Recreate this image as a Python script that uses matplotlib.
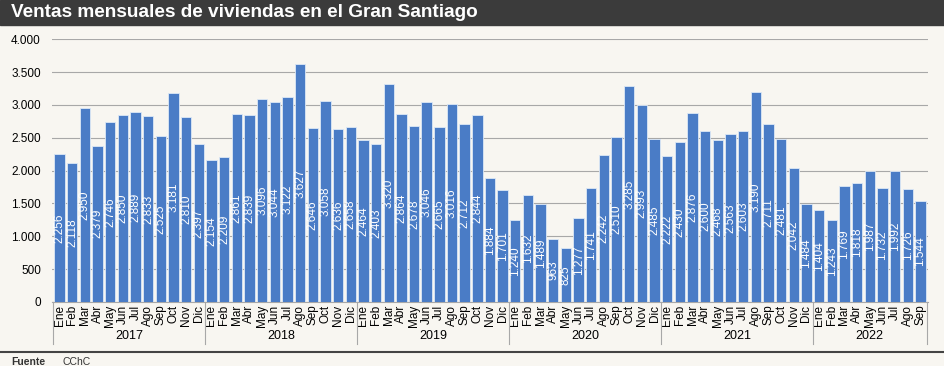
import numpy as np
import matplotlib
matplotlib.use("Agg")
import matplotlib.pyplot as plt
from matplotlib import font_manager

# Monthly home sales, Gran Santiago (CChC)
years = ["2017", "2018", "2019", "2020", "2021", "2022"]
months = ["Ene", "Feb", "Mar", "Abr", "May", "Jun", "Jul", "Ago", "Sep", "Oct", "Nov", "Dic"]
sales_2017 = [2256, 2118, 2950, 2379, 2746, 2850, 2889, 2833, 2525, 3181, 2810, 2397]
sales_2018 = [2154, 2209, 2861, 2839, 3096, 3044, 3122, 3627, 2646, 3058, 2636, 2658]
sales_2019 = [2464, 2403, 3320, 2864, 2678, 3046, 2665, 3016, 2712, 2844, 1884, 1701]
sales_2020 = [1240, 1632, 1489, 963, 825, 1277, 1741, 2242, 2510, 3285, 2993, 2485]
sales_2021 = [2222, 2430, 2876, 2600, 2468, 2563, 2603, 3190, 2711, 2481, 2042, 1484]
sales_2022 = [1404, 1243, 1769, 1818, 1987, 1732, 1992, 1726, 1544]
yticks = [0, 500, 1000, 1500, 2000, 2500, 3000, 3500, 4000]

all_years = [sales_2017, sales_2018, sales_2019, sales_2020, sales_2021, sales_2022]
values = [v for yr in all_years for v in yr]
labels = [months[i] for yr in all_years for i in range(len(yr))]
x = np.arange(len(values))

plt.rcParams["font.family"] = ["Liberation Sans", "DejaVu Sans"]
names = {f.name for f in font_manager.fontManager.ttflist}
narrow = "Liberation Sans Narrow" if "Liberation Sans Narrow" in names else "Liberation Sans"

bg = "#f8f6f1"
bar_color = "#4a7cc6"

fig = plt.figure(figsize=(9.45, 3.66), dpi=100, facecolor=bg)
ax = fig.add_axes([0.055, 0.175, 0.927, 0.718], facecolor=bg)

ax.bar(x, values, width=0.82, color=bar_color, edgecolor="#dce8f6", linewidth=0.6, zorder=3)
for xi, v in zip(x, values):
    ax.text(xi, v / 2, f"{v:,}".replace(",", "."), rotation=90, ha="center", va="center",
            color="white", fontsize=8.5, family=narrow, zorder=4)

ax.set_xlim(-0.6, len(values) - 0.4)
ax.set_ylim(0, 4000)
ax.set_yticks(yticks)
ax.set_yticklabels([f"{t:,}".replace(",", ".") for t in yticks], fontsize=8.5)
ax.yaxis.grid(True, color="#a8a8a8", linewidth=0.8, zorder=0)
ax.tick_params(axis="y", length=0, pad=8)
ax.set_xticks(x)
ax.set_xticklabels(labels, rotation=90, fontsize=8.5)
ax.tick_params(axis="x", length=0, pad=2)
for s in ["top", "right", "left"]:
    ax.spines[s].set_visible(False)
ax.spines["bottom"].set_color("#a8a8a8")

# year groups: separators and labels
start = 0
for yr, data in zip(years, all_years):
    n = len(data)
    ax.plot([start - 0.5, start - 0.5], [0, -0.16], transform=ax.get_xaxis_transform(),
            color="#a8a8a8", linewidth=0.8, clip_on=False)
    ax.text(start + (n - 1) / 2, -0.13, yr, transform=ax.get_xaxis_transform(),
            ha="center", va="center", fontsize=9)
    start += n
ax.plot([start - 0.5, start - 0.5], [0, -0.16], transform=ax.get_xaxis_transform(),
        color="#a8a8a8", linewidth=0.8, clip_on=False)

# title bar
fig.patches.append(plt.Rectangle((0, 0.932), 1, 0.068, transform=fig.transFigure,
                                 color="#3b3b3b", zorder=0))
fig.text(0.012, 0.966, "Ventas mensuales de viviendas en el Gran Santiago", color="white",
         fontsize=13.7, fontweight="bold", va="center", ha="left")

# footer
fig.add_artist(plt.Line2D([0, 1], [0.038, 0.038], transform=fig.transFigure,
                          color="#444444", linewidth=1.5))
fig.text(0.012, 0.01, "Fuente", fontsize=7.5, fontweight="bold", va="center", color="#333333")
fig.text(0.066, 0.01, "CChC", fontsize=7.5, va="center", color="#333333")

fig.savefig("out.png", dpi=100, facecolor=bg)
